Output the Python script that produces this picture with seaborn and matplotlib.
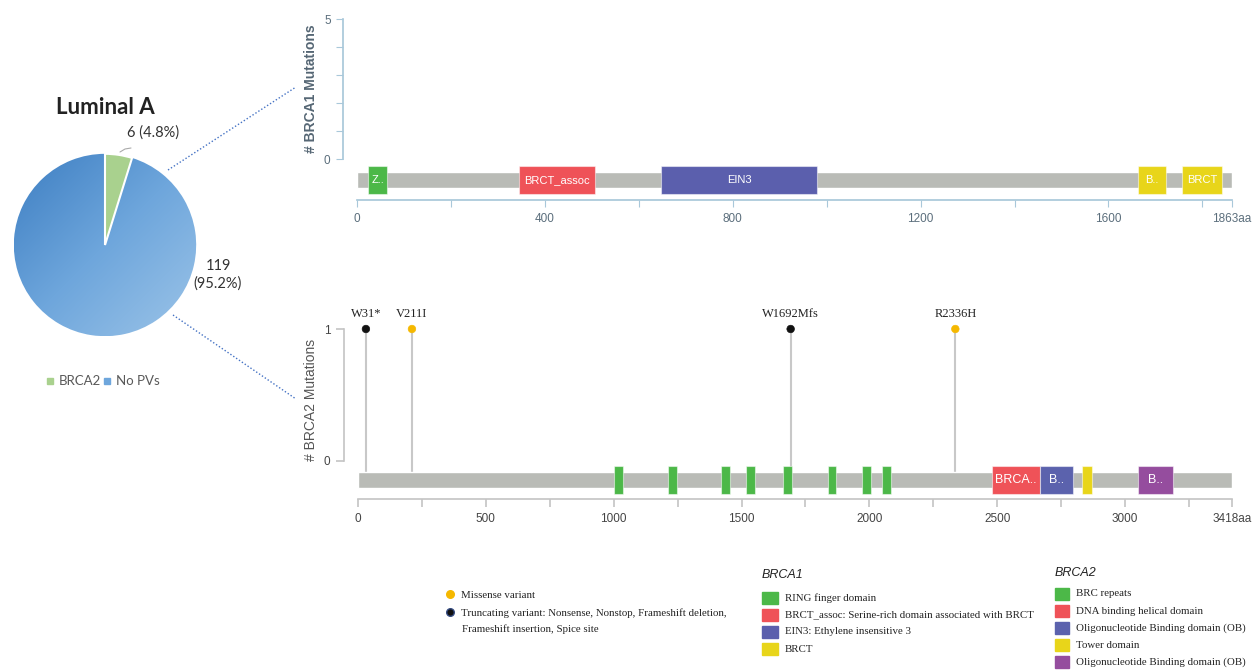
import numpy as np
import pandas as pd
import matplotlib.pyplot as plt
import seaborn as sns
from matplotlib.patches import Rectangle
from matplotlib.colors import LinearSegmentedColormap

# pie data
pie_labels = ["BRCA2", "No PVs"]
pie_values = [6, 119]

# BRCA1 protein
brca1_len = 1863
brca1_dom_start = [24, 344, 648, 1663, 1756]
brca1_dom_end = [64, 507, 979, 1723, 1842]
brca1_dom_text = ["Z..", "BRCT_assoc", "EIN3", "B..", "BRCT"]
brca1_dom_type = ["RING", "BRCT_assoc", "EIN3", "BRCT", "BRCT"]

# BRCA2 protein
brca2_len = 3418
brca2_dom_start = [1002, 1212, 1421, 1517, 1664, 1837, 1971, 2051, 2479, 2668, 2831, 3050]
brca2_dom_end = [1036, 1246, 1455, 1551, 1698, 1871, 2005, 2085, 2667, 2798, 2870, 3187]
brca2_dom_text = ["", "", "", "", "", "", "", "", "BRCA..", "B..", "", "B.."]
brca2_dom_type = ["BRC"] * 8 + ["helical", "OB", "tower", "OB2"]

# BRCA2 mutations
mut_pos = [31, 211, 1692, 2336]
mut_count = [1, 1, 1, 1]
mut_label = ["W31*", "V211I", "W1692Mfs", "R2336H"]
mut_type = ["Truncating", "Missense", "Truncating", "Missense"]

dom_colors = {"RING": "#4cb848", "BRCT_assoc": "#ef5258", "EIN3": "#5b5fad",
              "BRCT": "#e8d51a", "BRC": "#4cb848", "helical": "#ef5258",
              "OB": "#5b62ad", "tower": "#e8d51a", "OB2": "#954d9e"}
mut_colors = {"Truncating": "#111111", "Missense": "#f5b800"}

sns.set_theme(style="white")
plt.rcParams['font.family'] = ['Liberation Sans', 'DejaVu Sans']

W, H = 1253, 670
fig = plt.figure(figsize=(W / 100, H / 100), dpi=100)

def frac(left, top, right, bottom):
    return [left / W, 1 - bottom / H, (right - left) / W, (bottom - top) / H]

# overlay axes in pixel coords for legends / connectors
ov = fig.add_axes([0, 0, 1, 1])
ov.set_xlim(0, W)
ov.set_ylim(H, 0)
ov.axis("off")

# ---- pie ----
axp = fig.add_axes(frac(12, 152, 198, 338))
wedges, _ = axp.pie(pie_values, colors=["#a9d18e", "#6ea6dc"], startangle=90,
                    counterclock=False, radius=1,
                    wedgeprops=dict(edgecolor="white", linewidth=1.5))
gx, gy = np.meshgrid(np.linspace(0, 1, 200), np.linspace(0, 1, 200))
grad = (gx + gy) / 2
cmap = LinearSegmentedColormap.from_list("bl", ["#3d7ec2", "#6ea6dc", "#9cc4e8"])
img = axp.imshow(grad, extent=[-1, 1, -1, 1], cmap=cmap, origin="upper", zorder=0.5)
img.set_clip_path(wedges[1])
wedges[1].set_zorder(0.4)
axp.set_xlim(-1.02, 1.02)
axp.set_ylim(-1.02, 1.02)
axp.set_aspect("equal")
axp.axis("off")

ov.text(105, 107, "Luminal A", ha="center", va="center", fontsize=16,
        fontweight="bold", family="Lato", color="#222222")
ov.text(153, 133, "6 (4.8%)", ha="center", va="center", fontsize=10.5,
        family="Lato", color="#333333")
ov.plot([120, 125, 131], [152, 149, 148], color="#aaaaaa", lw=0.8)
ov.text(218, 275, "119\n(95.2%)", ha="center", va="center", fontsize=10.5,
        family="Lato", color="#333333", linespacing=1.3)
ov.add_patch(Rectangle((47, 378), 6, 6, color="#a9d18e"))
ov.text(59, 381, "BRCA2", va="center", fontsize=9.5, family="Lato", color="#595959")
ov.add_patch(Rectangle((104, 378), 6, 6, color="#6ea6dc"))
ov.text(116, 381, "No PVs", va="center", fontsize=9.5, family="Lato", color="#595959")

# dotted connectors
ov.plot([168, 296], [170, 87], color="#4472c4", lw=1, ls=(0, (1, 1.5)))
ov.plot([173, 296], [315, 399], color="#4472c4", lw=1, ls=(0, (1, 1.5)))


def draw_protein(ax, length, starts, ends, texts, types, bar_y, bar_h, dom_h, fs):
    ax.barh([bar_y], [length], left=[0], height=bar_h, color="#b9bbb6", zorder=2)
    widths = [e - s for s, e in zip(starts, ends)]
    ax.barh([bar_y] * len(starts), widths, left=starts, height=dom_h,
            color=[dom_colors[t] for t in types], edgecolor="#ffffff80",
            linewidth=0.8, zorder=3)
    for s, e, t in zip(starts, ends, texts):
        if t:
            ax.text((s + e) / 2, bar_y, t, ha="center", va="center", fontsize=fs,
                    color="white", zorder=4)


# ---- BRCA1 ----
ax1 = fig.add_axes(frac(357, 19, 1232, 200))
y0_1 = -1.464
ax1.set_ylim(y0_1, 5)
ax1.set_xlim(0, brca1_len)
draw_protein(ax1, brca1_len, brca1_dom_start, brca1_dom_end, brca1_dom_text,
             brca1_dom_type, -0.75, 0.57, 1.0, 8)
blue_ax = "#a9c8da"
for sp in ["top", "right"]:
    ax1.spines[sp].set_visible(False)
ax1.spines["left"].set_position(("outward", 10))
ax1.spines["left"].set_bounds(0, 5)
ax1.spines["bottom"].set_bounds(0, brca1_len)
ax1.spines["left"].set_color(blue_ax)
ax1.spines["bottom"].set_color(blue_ax)
ax1.set_yticks(range(6))
ax1.set_yticklabels(["0", "", "", "", "", "5"])
ax1.set_xticks(list(range(0, 1801, 200)) + [brca1_len])
ax1.set_xticklabels(["0", "", "400", "", "800", "", "1200", "", "1600", "", "1863aa"])
ax1.tick_params(axis="both", colors=blue_ax, labelcolor="#5b6e7c", labelsize=8.5,
                length=5, width=0.8, left=True, bottom=True, pad=4)
ax1.set_ylabel("# BRCA1 Mutations", fontsize=10, color="#556674", fontweight="bold")
ax1.yaxis.set_label_coords(-0.0446, 0.613)
ax1.patch.set_alpha(0)

# ---- BRCA2 ----
ax2 = fig.add_axes(frac(358, 329, 1232, 499))
y0_2 = -0.288
ax2.set_ylim(y0_2, 1)
ax2.set_xlim(0, brca2_len)
bar_y2 = -0.144
ax2.vlines(mut_pos, bar_y2 + 0.061, mut_count, color="#c8c8c8", lw=1.5, zorder=1)
draw_protein(ax2, brca2_len, brca2_dom_start, brca2_dom_end, brca2_dom_text,
             brca2_dom_type, bar_y2, 0.122, 0.212, 9)
mut_df = pd.DataFrame({"pos": mut_pos, "count": mut_count, "type": mut_type})
sns.scatterplot(data=mut_df, x="pos", y="count", hue="type", palette=mut_colors,
                s=30, edgecolor=None, legend=False, ax=ax2, zorder=5, clip_on=False)
for p, c, lab in zip(mut_pos, mut_count, mut_label):
    ax2.annotate(lab, (p, c), xytext=(0, 6.5), textcoords="offset points",
                 ha="center", va="bottom", fontsize=9, family="Liberation Serif",
                 color="#222222")
gray_ax = "#c4c4c4"
for sp in ["top", "right"]:
    ax2.spines[sp].set_visible(False)
ax2.spines["left"].set_position(("outward", 10))
ax2.spines["left"].set_bounds(0, 1)
ax2.spines["bottom"].set_bounds(0, brca2_len)
ax2.spines["left"].set_color(gray_ax)
ax2.spines["bottom"].set_color(gray_ax)
ax2.spines["left"].set_linewidth(1.2)
ax2.spines["bottom"].set_linewidth(1.2)
ax2.set_yticks([0, 1])
ax2.set_xticks(list(range(0, 3251, 250)) + [brca2_len])
xl2 = []
for v in range(0, 3251, 250):
    xl2.append(str(v) if v % 500 == 0 else "")
ax2.set_xticklabels(xl2 + ["3418aa"])
ax2.tick_params(axis="both", colors=gray_ax, labelcolor="#444444", labelsize=8.5,
                length=6, width=1.2, left=True, bottom=True, pad=4)
ax2.set_ylabel("# BRCA2 Mutations", fontsize=10, color="#555555")
ax2.yaxis.set_label_coords(-0.0458, 0.582)
ax2.patch.set_alpha(0)
ax2.set_xlabel("")

# ---- bottom legends ----
serif = "Liberation Serif"
lfs = 7.8
ov.scatter([450], [594], s=30, color="#f5b800", zorder=5)
ov.text(461, 595, "Missense variant", va="center", fontsize=lfs, family=serif, color="#222222")
ov.scatter([450], [612], s=30, color="#111111", edgecolor="#334a80", zorder=5)
ov.text(461, 613, "Truncating variant: Nonsense, Nonstop, Frameshift deletion,",
        va="center", fontsize=lfs, family=serif, color="#222222")
ov.text(462, 629, "Frameshift insertion, Spice site", va="center", fontsize=lfs,
        family=serif, color="#222222")

brca1_leg = ["RING finger domain", "BRCT_assoc: Serine-rich domain associated with BRCT",
             "EIN3: Ethylene insensitive 3", "BRCT"]
brca1_leg_col = ["#4cb848", "#ef5258", "#5b5fad", "#e8d51a"]
ov.text(762, 575, "BRCA1", va="center", fontsize=9, style="italic", color="#222222")
for i, (t, c) in enumerate(zip(brca1_leg, brca1_leg_col)):
    yc = 598 + i * 17
    ov.add_patch(Rectangle((762, yc - 6), 16, 12, color=c))
    ov.text(785, yc, t, va="center", fontsize=lfs, family=serif, color="#222222")

brca2_leg = ["BRC repeats", "DNA binding helical domain", "Oligonucleotide Binding domain (OB)",
             "Tower domain", "Oligonucleotide Binding domain (OB)"]
brca2_leg_col = ["#4cb848", "#ef5258", "#5b62ad", "#e8d51a", "#954d9e"]
ov.text(1055, 573, "BRCA2", va="center", fontsize=9, style="italic", color="#222222")
for i, (t, c) in enumerate(zip(brca2_leg, brca2_leg_col)):
    yc = 594 + i * 17
    ov.add_patch(Rectangle((1055, yc - 6), 14, 12, color=c))
    ov.text(1076, yc, t, va="center", fontsize=lfs, family=serif, color="#222222")

fig.savefig("out.png", dpi=100)
